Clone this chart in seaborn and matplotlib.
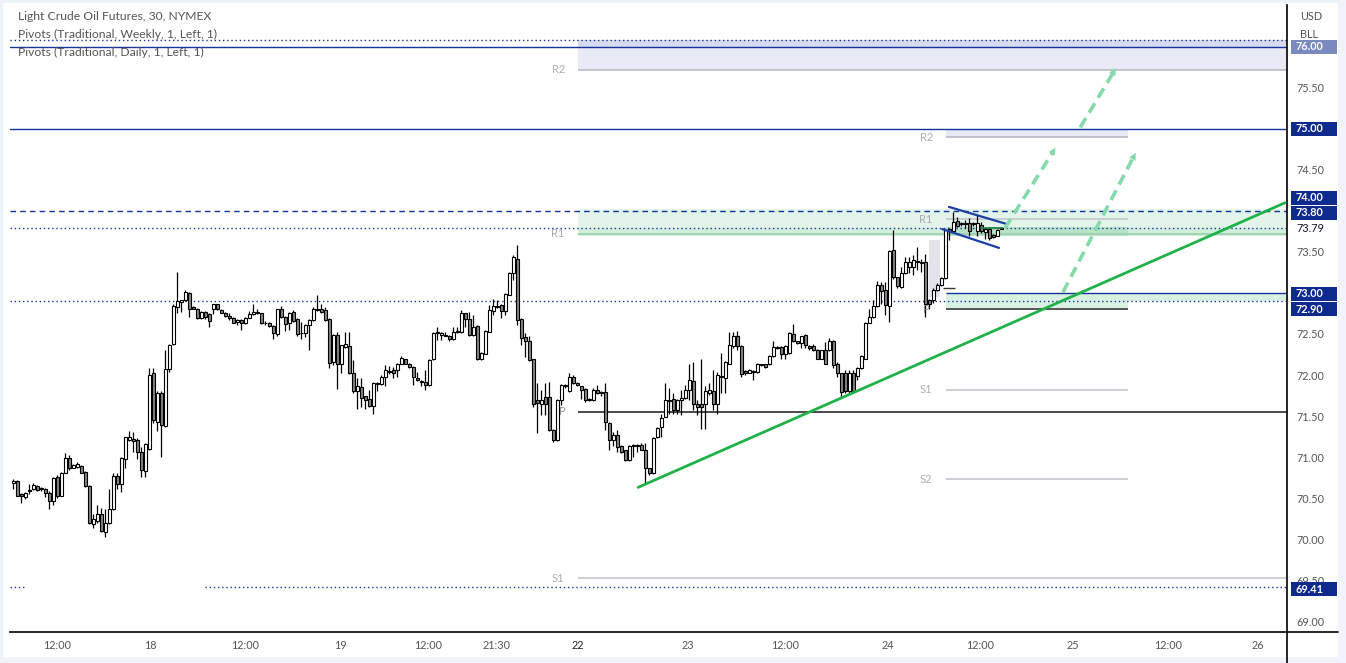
import numpy as np
import pandas as pd
import matplotlib
matplotlib.use('Agg')
import matplotlib.pyplot as plt
import matplotlib.transforms as mtransforms
from matplotlib.patches import Rectangle
from matplotlib.lines import Line2D
import seaborn as sns

# 30 min bars (oldest first)
open_ = [70.68, 70.71, 70.55, 70.51, 70.58, 70.61, 70.65, 70.61, 70.61, 70.56,
         70.46, 70.76, 70.53, 70.81, 70.99, 70.87, 70.88, 70.89, 70.82, 70.65,
         70.18, 70.22, 70.30, 70.08, 70.19, 70.36, 70.77, 70.67, 70.98, 71.21,
         71.22, 71.21, 71.06, 70.83, 71.10, 72.02, 71.43, 71.78, 71.38, 72.07,
         72.38, 72.83, 72.89, 72.91, 73.00, 72.83, 72.81, 72.70, 72.77, 72.74,
         72.81, 72.86, 72.79, 72.76, 72.72, 72.70, 72.65, 72.67, 72.63, 72.70,
         72.74, 72.77, 72.75, 72.64, 72.64, 72.60, 72.50, 72.81, 72.71, 72.63,
         72.77, 72.68, 72.51, 72.51, 72.61, 72.67, 72.79, 72.81, 72.79, 72.68,
         72.16, 72.49, 72.14, 72.34, 72.35, 72.02, 71.80, 71.85, 71.74, 71.71,
         71.62, 71.89, 71.89, 71.98, 72.04, 72.06, 72.06, 72.14, 72.19, 72.13,
         72.10, 71.96, 71.93, 71.92, 71.88, 72.19, 72.51, 72.49, 72.49, 72.48,
         72.44, 72.52, 72.53, 72.75, 72.68, 72.49, 72.60, 72.19, 72.26, 72.53,
         72.78, 72.83, 72.85, 72.78, 72.98, 73.24, 73.42, 72.68, 72.46, 72.41,
         72.19, 71.69, 71.65, 71.73, 71.73, 71.33, 71.21, 71.69, 71.86, 71.80,
         71.98, 71.90, 71.86, 71.83, 71.71, 71.69, 71.82, 71.78, 71.79, 71.42,
         71.21, 71.27, 71.14, 71.08, 70.96, 71.14, 71.15, 71.15, 71.09, 70.86,
         70.80, 71.24, 71.36, 71.49, 71.68, 71.71, 71.57, 71.70, 71.72, 71.82,
         71.93, 71.65, 71.65, 71.65, 71.78, 71.80, 71.65, 71.97, 71.96, 72.14,
         72.35, 72.48, 72.35, 72.05, 72.03, 72.05, 72.04, 72.12, 72.13, 72.13,
         72.23, 72.33, 72.34, 72.26, 72.27, 72.50, 72.41, 72.39, 72.49, 72.35,
         72.35, 72.31, 72.20, 72.30, 72.30, 72.42, 72.13, 72.02, 72.02, 71.80,
         72.03, 71.99, 72.08, 72.20, 72.64, 72.71, 72.84, 73.10, 73.04, 72.84,
         73.52, 73.19, 73.07, 73.24, 73.32, 73.32, 73.38, 73.38, 73.38, 72.92,
         72.91, 73.04, 73.10, 73.18, 73.78, 73.76, 73.88, 73.84, 73.85, 73.85,
         73.84, 73.75, 73.83, 73.74, 73.78, 73.71, 73.70, 73.78]
high = [70.73, 70.72, 70.56, 70.57, 70.67, 70.68, 70.66, 70.63, 70.62, 70.58,
        70.76, 70.78, 70.82, 71.05, 71.02, 70.91, 70.94, 70.90, 70.83, 70.66,
        70.31, 70.41, 70.38, 70.37, 70.61, 70.80, 70.80, 71.00, 71.25, 71.32,
        71.30, 71.23, 71.12, 71.17, 72.09, 72.08, 71.80, 71.80, 72.30, 72.38,
        72.87, 73.26, 72.92, 73.04, 73.01, 72.84, 72.82, 72.78, 72.78, 72.76,
        72.87, 72.87, 72.80, 72.77, 72.75, 72.71, 72.68, 72.68, 72.71, 72.78,
        72.86, 72.80, 72.76, 72.66, 72.65, 72.61, 72.81, 72.84, 72.72, 72.77,
        72.79, 72.69, 72.65, 72.62, 72.68, 72.83, 72.97, 72.86, 72.83, 72.69,
        72.50, 72.53, 72.37, 72.53, 72.53, 72.18, 71.96, 71.96, 71.75, 71.82,
        71.91, 71.92, 72.00, 72.12, 72.11, 72.10, 72.15, 72.23, 72.20, 72.15,
        72.11, 72.04, 71.94, 72.06, 72.19, 72.53, 72.59, 72.52, 72.53, 72.49,
        72.59, 72.59, 72.79, 72.76, 72.77, 72.73, 72.61, 72.28, 72.55, 72.85,
        72.93, 72.92, 72.86, 73.00, 73.25, 73.46, 73.59, 72.69, 72.51, 72.47,
        72.20, 71.90, 71.82, 71.90, 71.91, 71.34, 71.71, 71.89, 71.89, 72.02,
        72.00, 71.92, 71.87, 71.84, 71.72, 71.84, 71.88, 71.80, 71.90, 71.43,
        71.31, 71.33, 71.15, 71.09, 71.15, 71.16, 71.16, 71.17, 71.17, 70.87,
        71.24, 71.36, 71.53, 71.90, 71.84, 71.78, 71.71, 71.82, 71.88, 72.14,
        72.16, 71.70, 72.19, 71.87, 71.90, 72.06, 72.04, 72.27, 72.17, 72.53,
        72.53, 72.54, 72.36, 72.06, 72.07, 72.06, 72.15, 72.14, 72.14, 72.24,
        72.41, 72.35, 72.35, 72.36, 72.52, 72.62, 72.42, 72.48, 72.50, 72.37,
        72.38, 72.32, 72.31, 72.40, 72.45, 72.43, 72.16, 72.03, 72.06, 72.06,
        72.06, 72.10, 72.24, 72.65, 72.80, 72.92, 73.15, 73.14, 73.14, 73.53,
        73.77, 73.20, 73.32, 73.44, 73.44, 73.46, 73.56, 73.42, 73.48, 72.93,
        73.06, 73.12, 73.19, 73.78, 73.79, 73.99, 73.93, 73.87, 73.89, 73.91,
        73.87, 73.95, 73.87, 73.79, 73.79, 73.72, 73.78, 73.79]
low = [70.61, 70.52, 70.44, 70.49, 70.55, 70.60, 70.59, 70.59, 70.51, 70.37,
       70.41, 70.50, 70.52, 70.80, 70.84, 70.86, 70.87, 70.80, 70.64, 70.18,
       70.14, 70.19, 70.08, 70.03, 70.18, 70.35, 70.61, 70.57, 70.86, 71.20,
       71.06, 70.98, 70.76, 70.76, 71.08, 71.41, 71.32, 71.00, 71.37, 72.04,
       72.37, 72.76, 72.77, 72.90, 72.71, 72.80, 72.68, 72.68, 72.68, 72.59,
       72.74, 72.79, 72.75, 72.71, 72.67, 72.63, 72.61, 72.55, 72.62, 72.69,
       72.73, 72.74, 72.62, 72.61, 72.59, 72.44, 72.48, 72.70, 72.54, 72.55,
       72.65, 72.48, 72.44, 72.46, 72.30, 72.66, 72.78, 72.76, 72.66, 72.08,
       72.12, 71.83, 72.02, 72.33, 72.01, 71.78, 71.59, 71.61, 71.59, 71.61,
       71.53, 71.80, 71.88, 71.86, 72.01, 71.96, 71.98, 72.13, 72.13, 72.09,
       71.88, 71.93, 71.86, 71.82, 71.86, 72.18, 72.43, 72.43, 72.47, 72.41,
       72.43, 72.51, 72.51, 72.59, 72.47, 72.48, 72.18, 72.18, 72.25, 72.52,
       72.73, 72.82, 72.69, 72.73, 72.97, 73.16, 72.61, 72.36, 72.22, 72.17,
       71.61, 71.29, 71.51, 71.51, 71.32, 71.18, 71.20, 71.63, 71.84, 71.79,
       71.89, 71.86, 71.71, 71.67, 71.68, 71.68, 71.77, 71.74, 71.33, 71.08,
       71.13, 71.06, 71.05, 70.95, 70.95, 71.00, 71.06, 71.08, 70.67, 70.78,
       70.79, 71.23, 71.25, 71.49, 71.53, 71.53, 71.53, 71.51, 71.71, 71.70,
       71.57, 71.51, 71.34, 71.34, 71.76, 71.57, 71.53, 71.78, 71.78, 72.13,
       72.33, 72.31, 71.98, 72.00, 72.02, 71.94, 72.03, 72.11, 72.08, 72.12,
       72.22, 72.32, 72.20, 72.20, 72.26, 72.40, 72.38, 72.33, 72.33, 72.31,
       72.29, 72.19, 72.19, 72.13, 72.29, 72.08, 71.98, 71.72, 71.78, 71.78,
       71.79, 71.94, 72.07, 72.19, 72.63, 72.70, 72.83, 72.87, 72.73, 72.65,
       73.17, 73.06, 73.06, 73.23, 73.24, 73.22, 73.28, 73.26, 72.71, 72.81,
       72.88, 73.03, 73.09, 73.17, 73.65, 73.75, 73.81, 73.82, 73.79, 73.69,
       73.82, 73.69, 73.73, 73.66, 73.65, 73.67, 73.69, 73.78]
close = [70.71, 70.53, 70.53, 70.56, 70.60, 70.66, 70.60, 70.61, 70.56, 70.46,
         70.75, 70.53, 70.81, 70.99, 70.87, 70.90, 70.91, 70.81, 70.65, 70.20,
         70.24, 70.31, 70.10, 70.19, 70.36, 70.77, 70.67, 70.99, 71.24, 71.25,
         71.20, 71.06, 70.84, 71.16, 72.00, 71.45, 71.78, 71.39, 72.07, 72.37,
         72.84, 72.90, 72.91, 73.01, 72.81, 72.81, 72.70, 72.77, 72.71, 72.66,
         72.86, 72.80, 72.76, 72.72, 72.70, 72.64, 72.67, 72.63, 72.70, 72.74,
         72.77, 72.75, 72.63, 72.63, 72.60, 72.51, 72.80, 72.71, 72.62, 72.76,
         72.66, 72.50, 72.51, 72.61, 72.67, 72.80, 72.81, 72.77, 72.67, 72.15,
         72.49, 72.14, 72.36, 72.38, 72.02, 71.80, 71.86, 71.72, 71.70, 71.62,
         71.90, 71.90, 71.98, 72.06, 72.05, 72.02, 72.14, 72.21, 72.14, 72.10,
         71.98, 71.94, 71.92, 71.88, 72.18, 72.51, 72.52, 72.51, 72.48, 72.44,
         72.53, 72.54, 72.75, 72.68, 72.49, 72.59, 72.19, 72.27, 72.54, 72.79,
         72.84, 72.84, 72.78, 72.99, 73.24, 73.44, 72.67, 72.45, 72.41, 72.18,
         71.65, 71.66, 71.69, 71.65, 71.33, 71.21, 71.70, 71.88, 71.88, 71.98,
         71.90, 71.88, 71.82, 71.69, 71.69, 71.82, 71.78, 71.79, 71.43, 71.21,
         71.27, 71.12, 71.06, 70.96, 71.14, 71.15, 71.14, 71.09, 70.86, 70.81,
         71.23, 71.35, 71.48, 71.70, 71.70, 71.57, 71.70, 71.72, 71.82, 71.94,
         71.65, 71.61, 71.61, 71.80, 71.82, 71.65, 72.00, 71.99, 72.16, 72.37,
         72.47, 72.35, 72.01, 72.02, 72.06, 72.04, 72.13, 72.13, 72.10, 72.23,
         72.34, 72.34, 72.26, 72.35, 72.51, 72.41, 72.39, 72.47, 72.37, 72.33,
         72.31, 72.20, 72.30, 72.14, 72.41, 72.12, 72.02, 71.79, 71.80, 72.02,
         71.81, 72.09, 72.23, 72.64, 72.71, 72.84, 73.10, 73.03, 72.85, 73.51,
         73.19, 73.08, 73.24, 73.38, 73.38, 73.40, 73.39, 73.37, 72.87, 72.87,
         73.04, 73.10, 73.18, 73.77, 73.75, 73.87, 73.82, 73.85, 73.84, 73.75,
         73.85, 73.85, 73.75, 73.78, 73.67, 73.68, 73.77, 73.79]

# time axis labels (positions in bar units)
x_ticks = [10.9, 34.2, 57.9, 81.7, 103.7, 120.9, 141.2, 168.7, 192.9, 218.7, 241.7, 264.9, 288.7, 311.2]
x_labels = ['12:00', '18', '12:00', '19', '12:00', '21:30', '22', '23', '12:00', '24', '12:00', '25', '12:00', '26']
y_ticks = [69.0, 69.5, 70.0, 70.5, 71.0, 71.5, 72.0, 72.5, 73.5, 74.5, 75.5]

# pivot levels
weekly_names = ['R2', 'R1', 'P', 'S1']
weekly_levels = [75.72, 73.72, 71.55, 69.52]
daily_names = ['R2', 'R1', 'P', 'S1', 'S2']
daily_levels = [74.90, 73.90, 72.80, 71.82, 70.73]

# price tags on the right scale
tag_text = ['76.00', '75.00', '74.00', '73.80', '73.00', '72.90', '69.41']
tag_pos = [76.00, 75.00, 74.16, 73.98, 72.99, 72.80, 69.39]

df = pd.DataFrame({'open': open_, 'high': high, 'low': low, 'close': close})
df['x'] = np.arange(len(df))

sns.set_theme(style='white')
plt.rcParams['font.family'] = ['Lato', 'DejaVu Sans']

W, H = 1346, 663
fig = plt.figure(figsize=(W / 100, H / 100), dpi=100)
fig.patch.set_facecolor('#f0f3fa')
fig.add_artist(Rectangle((3 / W, 6 / H), 1335 / W, 654 / H, transform=fig.transFigure,
                         fc='white', ec='none', zorder=-10))
ax = fig.add_axes([10 / W, 31 / H, 1277 / W, 627 / H])
ax.set_facecolor('white')

XMIN, XMAX = -0.83, 318.4
ax.set_xlim(XMIN, XMAX)
ax.set_ylim(68.866, 76.512)

navy = '#13349a'
wk0 = 141.2
d0, d1 = 233.2, 278.7

# zones
ax.add_patch(Rectangle((wk0, 75.72), XMAX - wk0, 0.28, fc='#e8eaf6', ec='none', zorder=0))
ax.add_patch(Rectangle((wk0, 76.0), XMAX - wk0, 0.09, fc='#d6dbef', ec='none', zorder=0))
ax.add_patch(Rectangle((d0, 74.90), d1 - d0, 0.10, fc='#e8eaf6', ec='none', zorder=0))
ax.add_patch(Rectangle((wk0, 73.70), XMAX - wk0, 0.32, fc='#e3f5ea', ec='none', zorder=0))
ax.add_patch(Rectangle((wk0, 73.70), XMAX - wk0, 0.09, fc='#d2eedd', ec='none', zorder=0))
ax.add_patch(Rectangle((d0, 73.70), d1 - d0, 0.10, fc='#b9e3c8', ec='none', zorder=0))
ax.add_patch(Rectangle((d0, 72.90), XMAX - d0, 0.10, fc='#d9f1e2', ec='none', zorder=0))
ax.add_patch(Rectangle((d0, 72.80), d1 - d0, 0.10, fc='#d9f1e2', ec='none', zorder=0))
ax.add_patch(Rectangle((228.8, 72.95), 2.8, 0.70, fc='#e3e4ea', ec='none', zorder=0))

# pivot lines + labels
wk_colors = ['#b8bcc8', '#9ccfae', '#2b2b2b', '#c3c6ce']
for name, lvl, c in zip(weekly_names, weekly_levels, wk_colors):
    ax.hlines(lvl, wk0, XMAX, color=c, lw=1.2, zorder=1)
    px = wk0 - 4 if name == 'P' else wk0 - 5
    ax.text(px, lvl, name, color='#8d9099' if name == 'P' else '#a9acb5', fontsize=8,
            ha='center', va='center', zorder=7)
dy_colors = ['#b8bcc8', '#c3c6ce', '#555555', '#c3c6ce', '#c3c6ce']
for name, lvl, c in zip(daily_names, daily_levels, dy_colors):
    ax.hlines(lvl, d0, d1, color=c, lw=1.4 if name == 'P' else 1.2, zorder=1)
    ax.text(d0 - 5, lvl, name, color='#8d9099' if name == 'P' else '#a9acb5', fontsize=8,
            ha='center', va='center', zorder=7)

# horizontal levels
ax.axhline(76.00, color=navy, lw=1, zorder=1)
ax.axhline(75.00, color=navy, lw=1, zorder=1)
ax.axhline(74.00, color=navy, lw=1, ls=(0, (4, 3)), zorder=1)
ax.axhline(76.09, color=navy, lw=1, ls=(0, (1, 2)), zorder=1)
ax.axhline(73.79, color=navy, lw=1, ls=(0, (1, 2)), zorder=1)
ax.axhline(72.90, color=navy, lw=1, ls=(0, (1, 2)), zorder=1)
ax.hlines(69.41, XMIN, 3, color=navy, lw=1, ls=(0, (1, 2)), zorder=1)
ax.hlines(69.41, 48, XMAX, color=navy, lw=1, ls=(0, (1, 2)), zorder=1)
ax.hlines(73.00, d0, XMAX, color=navy, lw=1, zorder=1)

# candles
up = df['close'] >= df['open']
body_low = df[['open', 'close']].min(axis=1)
body_h = (df['close'] - df['open']).abs().clip(lower=0.008)
ax.vlines(df['x'], df['low'], df['high'], color='black', lw=0.9, zorder=3)
ax.bar(df['x'], body_h, bottom=body_low, width=0.6,
       color=np.where(up, 'white', '#858585'), edgecolor='black', linewidth=0.8, zorder=4)

ax.hlines(73.06, 232.5, 235.5, color='#333333', lw=1, zorder=4)
ax.hlines(73.79, 241.7, 247.4, color='#1e7d3a', lw=1.2, zorder=5)

# drawings
ax.plot([156.2, 317.9], [70.63, 74.10], color='#20b24a', lw=2, zorder=6)
ax.plot([233.9, 248.4], [74.05, 73.84], color='#1b3ea6', lw=1.6, zorder=6)
ax.plot([232.2, 246.4], [73.78, 73.55], color='#1b3ea6', lw=1.6, zorder=6)
arrows = [((247.9, 73.79), (260.9, 74.80)),
          ((262.4, 73.01), (280.9, 74.74)),
          ((266.7, 75.02), (276.0, 75.77))]
for (xa, ya), (xb, yb) in arrows:
    ax.plot([xa, xb - (xb - xa) * 0.06], [ya, yb - (yb - ya) * 0.06],
            color='#86d9ab', lw=2.6, ls=(0, (3, 1.8)), zorder=6)
    ax.annotate('', xy=(xb, yb), xytext=(xb - (xb - xa) * 0.1, yb - (yb - ya) * 0.1),
                arrowprops=dict(arrowstyle='-|>', color='#86d9ab', lw=0, mutation_scale=13),
                zorder=6)

# axes
for s in ['top', 'left']:
    ax.spines[s].set_visible(False)
for s in ['right', 'bottom']:
    ax.spines[s].set_color('black')
    ax.spines[s].set_linewidth(1.2)
fig.add_artist(Line2D([1287 / W, 1287 / W], [0, 31 / H], color='black', lw=1.2, transform=fig.transFigure))
fig.add_artist(Line2D([1287 / W, 1338 / W], [31 / H, 31 / H], color='black', lw=1.2, transform=fig.transFigure))

ax.yaxis.tick_right()
ax.set_yticks(y_ticks, [f'{v:.2f}' for v in y_ticks])
ax.tick_params(axis='y', length=0, pad=7, labelcolor='#555555', labelsize=7.8)
ax.set_xticks(x_ticks, x_labels)
ax.tick_params(axis='x', length=0, pad=6, labelcolor='#555555', labelsize=7.8)
for t in ax.get_xticklabels():
    if t.get_text() == '22':
        t.set_color('#222222')
ax.grid(False)

trans = mtransforms.blended_transform_factory(ax.transAxes, ax.transData)
for txt, yv in zip(tag_text, tag_pos):
    ax.add_patch(Rectangle((1 + 4 / 1277, yv - 0.085), 46 / 1277, 0.17, transform=trans,
                           fc='#0d2a8c', ec='none', clip_on=False, zorder=8,
                           alpha=0.55 if txt == '76.00' else 1))
    ax.text(1 + 9 / 1277, yv, txt, transform=trans, color='white', fontsize=7.8,
            fontweight='bold', va='center', ha='left', clip_on=False, zorder=9)
ax.text(1 + 9 / 1277, 73.79, '73.79', transform=trans, color='#131722', fontsize=7.8,
        va='center', ha='left', clip_on=False, zorder=9)
fig.text(1300 / W, 1 - 17 / H, 'USD', fontsize=7.8, color='#555555', va='center')
fig.text(1300 / W, 1 - 34 / H, 'BLL', fontsize=7.8, color='#555555', va='center')

# legend texts
legend = ['Light Crude Oil Futures, 30, NYMEX',
          'Pivots (Traditional, Weekly, 1, Left, 1)',
          'Pivots (Traditional, Daily, 1, Left, 1)']
for k, s in enumerate(legend):
    fig.text(18 / W, 1 - (17 + 17.5 * k) / H, s, fontsize=8.7, color='#555555', va='center')

fig.savefig('out.png', dpi=100, facecolor=fig.get_facecolor())
